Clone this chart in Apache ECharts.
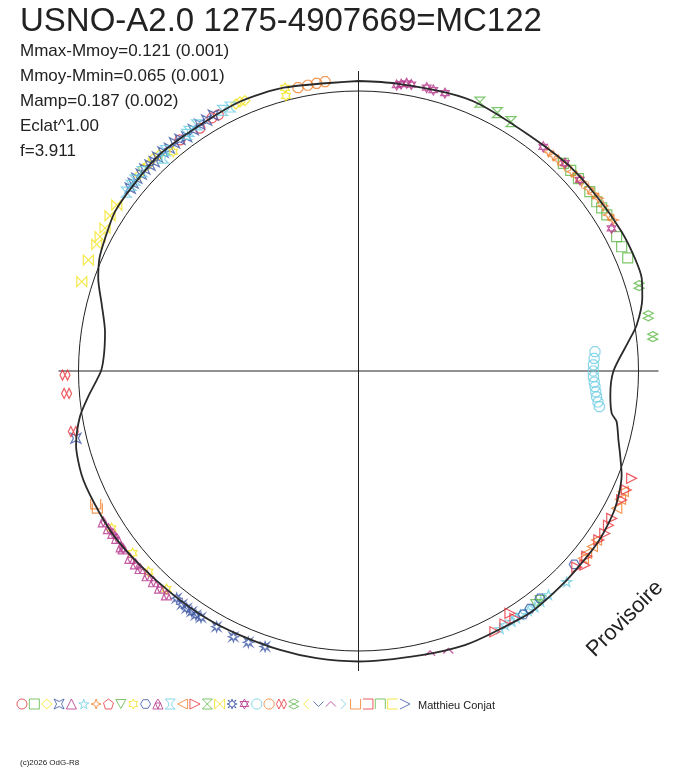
<!DOCTYPE html>
<html><head><meta charset="utf-8">
<script src="https://cdn.jsdelivr.net/npm/echarts@6/dist/echarts.min.js"></script>
<style>html,body{margin:0;padding:0;background:#fff}#c{width:688px;height:768px}</style>
</head><body><div id="c"></div>
<script>
// ---------- texts ----------
const titleText = 'USNO-A2.0 1275-4907669=MC122';
const statLines = ['Mmax-Mmoy=0.121 (0.001)', 'Mmoy-Mmin=0.065 (0.001)', 'Mamp=0.187 (0.002)', 'Eclat^1.00', 'f=3.911'];
const authorText = 'Matthieu Conjat';
const copyrightText = '(c)2026 OdG-R8';
const watermarkText = 'Provisoire';

// ---------- fitted light curve: phase (0..1, clockwise from top) and magnitude offset from mean (positive = fainter) ----------
const curvePhase = [0, .02, .0497, .0678, .0992, .1264, .1506, .1725, .1883, .1997, .21, .2239, .2328, .25, .2653, .2764, .2808, .2914, .2994, .31, .3283, .3483, .3742, .4008, .4233, .4411, .4653, .5, .5231, .5436, .5672, .5875, .61, .6344, .6561, .6772, .6928, .7092, .7242, .735, .75, .7611, .7744, .79, .8044, .8153, .8267, .8422, .86, .8811, .9089, .9342, .9589, 1];
const curveDm    = [-.040, -.040, -.048, -.052, -.044, -.056, -.062, -.071, -.074, -.072, -.052, -.008, .034, .100, .108, .093, .068, .044, .021, -.012, -.044, -.057, -.060, -.066, -.057, -.056, -.044, -.042, -.041, -.039, -.038, -.041, -.042, -.049, -.060, -.062, -.063, -.048, -.009, .034, .090, .100, .094, .060, .015, -.010, -.024, -.044, -.048, -.056, -.050, -.057, -.052, -.040];

// ---------- observer symbols (legend order) ----------
const symbolColors = ['#e8333c','#5cb846','#f2e21a','#3b55a4','#b5338a','#6dcde3','#f0802e',
  '#e8333c','#5cb846','#f2e21a','#3b55a4','#b5338a','#6dcde3','#f0802e',
  '#e8333c','#5cb846','#f2e21a','#3b55a4','#b5338a','#6dcde3','#f0802e',
  '#e8333c','#5cb846','#f2e21a','#3b55a4','#b5338a','#6dcde3','#f0802e',
  '#e8333c','#5cb846','#f2e21a','#3b55a4'];
const symbolShapes = [
  'circle', 'rect', 'diamond',
  'path://M0 0L5 2.5L10 0L7.5 5L10 10L5 7.5L0 10L2.5 5Z',
  'triangle',
  'path://M5 0L6.2 3.6L10 3.6L6.9 5.9L8.1 9.5L5 7.3L1.9 9.5L3.1 5.9L0 3.6L3.8 3.6Z',
  'path://M5 0L6.3 3.7L10 5L6.3 6.3L5 10L3.7 6.3L0 5L3.7 3.7Z',
  'path://M5 0L10 3.8L8.1 10L1.9 10L0 3.8Z',
  'path://M0 0L10 0L5 9Z',
  'path://M5 0L6.4 2.5L9.3 2.5L7.9 5L9.3 7.5L6.4 7.5L5 10L3.6 7.5L0.7 7.5L2.1 5L0.7 2.5L3.6 2.5Z',
  'path://M2.5 0.7L7.5 0.7L10 5L7.5 9.3L2.5 9.3L0 5Z',
  'path://M0 10L2.5 4L5 10ZM5 10L7.5 4L10 10ZM2.5 4L5 0L7.5 4Z',
  'path://M0 0L10 0L6.5 4L6.5 7L10 10L0 10L3.5 7L3.5 4Z',
  'path://M0 5L10 0L10 10Z',
  'path://M0 0L10 5L0 10Z',
  'path://M0 0L10 0L0 10L10 10Z',
  'path://M0 0L0 10L10 0L10 10Z',
  'path://M5 0L6 3L9 1L7 4L10 5L7 6L9 9L6 7L5 10L4 7L1 9L3 6L0 5L3 4L1 1L4 3Z',
  'path://M5 0L9.3 7.5L0.7 7.5ZM5 10L0.7 2.5L9.3 2.5Z',
  'path://M3 0L7 0L10 3L10 7L7 10L3 10L0 7L0 3Z',
  'path://M3 0L7 0L10 3L10 7L7 10L3 10L0 7L0 3Z',
  'path://M0 5L2.5 0L5 5L2.5 10ZM5 5L7.5 0L10 5L7.5 10Z',
  'path://M5 0L10 2.5L5 5L0 2.5ZM5 5L10 7.5L5 10L0 7.5Z',
  'path://M5 0L0 5L5 10',
  'path://M0 0L5 5L10 0',
  'path://M0 5L5 0L10 5',
  'path://M0 10L5 5L0 0',
  'path://M0 0L0 10L10 10L10 0',
  'path://M0 0L10 0L10 10L0 10',
  'path://M0 10L0 0L10 0L10 10',
  'path://M10 0L0 0L0 10L10 10',
  'path://M0 0L10 5L0 10'
];

// ---------- observations: [phase, magnitude offset] ----------
const obsRedCircle     = [[.9203,-.048],[.9079,-.040],[.8953,-.048],[.9165,-.050]];
const obsGreenSquare   = [[.1239,-.047],[.1356,-.049],[.145,-.051],[.1517,-.049],[.1607,-.053],[.1736,-.044],[.1798,-.044],[.1867,-.048],[.1295,-.048],[.156,-.051]];
const obsYellowDiamond = [[.934,-.056],[.9367,-.053],[.9315,-.055],[.8778,-.062],[.8703,-.062],[.8735,-.058],[.866,-.057],[.8815,-.056]];
const obsBlueStar4     = [[.9179,-.057],[.9134,-.053],[.909,-.054],[.9045,-.050],[.8993,-.042],[.8955,-.050],[.892,-.052],[.888,-.049],[.884,-.054],[.88,-.054],[.877,-.050],[.874,-.052],[.8705,-.056],[.8672,-.053],[.8639,-.055],[.8606,-.053],[.8575,-.050],[.7128,-.042]];
const obsCyanStar5     = [[.376,-.065],[.388,-.054],[.3978,-.058],[.4167,-.053],[.4067,-.05],[.402,-.055],[.3935,-.055],[.4125,-.055],[.420,-.056],[.4095,-.052]];
const obsOrangeStar4   = [[.1136,-.040],[.1206,-.042],[.1303,-.047],[.1431,-.054],[.1506,-.062],[.1611,-.058],[.1649,-.065],[.125,-.045],[.138,-.05],[.117,-.041],[.134,-.049],[.147,-.056],[.1555,-.060]];
const obsGreenTriDown  = [[.3933,-.049],[.3965,-.052]];
const obsYellowStar6   = [[.9596,-.050],[.959,-.018],[.8883,-.028],[.6597,-.051],[.642,-.041],[.6286,-.042],[.6149,-.042]];
const obsBlueHexagon   = [[.3663,-.039],[.3928,-.044],[.4053,-.056],[.4005,-.052]];
const obsMagentaTris   = [[.665,-.066],[.6605,-.062],[.6536,-.056],[.6485,-.061],[.6407,-.062],[.6365,-.059],[.633,-.058],[.6275,-.057],[.6228,-.056],[.618,-.058],[.6128,-.060],[.647,-.06],[.657,-.058]];
const obsCyanGlass     = [[.928,-.054],[.9235,-.056],[.9074,-.058],[.902,-.054],[.882,-.035],[.8855,-.052],[.8625,-.056],[.859,-.054],[.9,-.05],[.8685,-.057],[.8545,-.052]];
const obsOrangeTriLeft = [[.318,-.044],[.3278,-.050],[.3483,-.048],[.3573,-.048],[.3225,-.047],[.3525,-.050],[.3605,-.051]];
const obsRedTriRight   = [[.3096,-.054],[.3225,-.052],[.3339,-.052],[.3428,-.060],[.3628,-.073],[.4103,-.051],[.4233,-.057],[.4111,-.023],[.338,-.055],[.3475,-.055],[.3585,-.056],[.3665,-.054],[.4165,-.049],[.3165,-.052]];
const obsGreenHourglass= [[.0675,-.060],[.0785,-.053],[.0874,-.049]];
const obsYellowBowtie  = [[.8458,-.053],[.8389,-.052],[.8317,-.044],[.8263,-.045],[.8217,-.043],[.812,-.048],[.7997,-.043]];
const obsBlueStar8     = [[.6074,-.044],[.5997,-.052],[.5964,-.051],[.5935,-.053],[.5905,-.050],[.5806,-.050],[.570,-.055],[.5614,-.051],[.552,-.044],[.603,-.05]];
const obsMagentaStar6  = [[.0211,-.034],[.0235,-.040],[.0264,-.047],[.029,-.045],[.0376,-.046],[.0414,-.043],[.048,-.044],[.1097,-.042],[.1245,-.052],[.1366,-.050],[.1683,-.042]];
const obsCyanOctagon   = [[.237,.171],[.2458,.180],[.2539,.180],[.2605,.172],[.2672,.162],[.2734,.146],[.2415,.176],[.25,.181],[.2575,.176],[.264,.167],[.2705,.154]];
const obsOrangeOctagon = [[.9665,-.039],[.977,-.043],[.9817,-.045],[.972,-.041]];
const obsRedDoubleDiam = [[.7478,-.054],[.7378,-.051],[.7167,-.046]];
const obsGreenDoubleDiam=[[.2030,-.053],[.220,-.060],[.2315,-.065]];
const obsMagentaChevron= [[.4605,-.045],[.4506,-.056]];
const obsOrangeCup     = [[.673,-.060],[.6755,-.058]];

// observer group -> legend symbol number (1-based)
const groups = [
  [1, obsRedCircle], [2, obsGreenSquare], [3, obsYellowDiamond], [4, obsBlueStar4],
  [6, obsCyanStar5], [7, obsOrangeStar4], [9, obsGreenTriDown], [10, obsYellowStar6],
  [11, obsBlueHexagon], [12, obsMagentaTris], [13, obsCyanGlass], [14, obsOrangeTriLeft],
  [15, obsRedTriRight], [16, obsGreenHourglass], [17, obsYellowBowtie], [18, obsBlueStar8],
  [19, obsMagentaStar6], [20, obsCyanOctagon], [21, obsOrangeOctagon], [22, obsRedDoubleDiam],
  [23, obsGreenDoubleDiam], [26, obsMagentaChevron], [28, obsOrangeCup]
];

// ---------- chart ----------
const chart = echarts.init(document.getElementById('c'), null, {renderer: 'canvas'});
const FONT = '"Liberation Sans", Arial, sans-serif';
const INK = '#222';
const NONE = 'rgba(0,0,0,0)';

const series = [];
groups.forEach(([n, pts]) => {
  series.push({
    type: 'scatter', coordinateSystem: 'polar', silent: true, z: 2,
    symbol: symbolShapes[n - 1], symbolSize: 10, symbolKeepAspect: true,
    itemStyle: {color: NONE, borderColor: symbolColors[n - 1], borderWidth: 1.2},
    data: pts.map(p => [-p[1], p[0]])
  });
});
series.push({
  type: 'line', coordinateSystem: 'polar', silent: true, z: 3,
  showSymbol: false, smooth: 0.25, clip: false,
  lineStyle: {color: '#2a2a2a', width: 1.8},
  data: curvePhase.map((ph, i) => [-curveDm[i], ph])
});
// legend row (observer symbols) on a small auxiliary grid
series.push({
  type: 'scatter', xAxisIndex: 0, yAxisIndex: 0, silent: true,
  symbolSize: 10, symbolKeepAspect: true,
  data: symbolShapes.map((s, i) => ({
    value: [i + 1, 0], symbol: s,
    itemStyle: {color: NONE, borderColor: symbolColors[i], borderWidth: 1}
  }))
});

const graphics = [
  {type: 'text', x: 20, y: 22, style: {text: titleText, font: '33px ' + FONT, fill: INK, verticalAlign: 'middle'}},
  {type: 'text', x: 418, y: 706, style: {text: authorText, font: '11px ' + FONT, fill: INK, verticalAlign: 'middle'}},
  {type: 'text', x: 20, y: 763, style: {text: copyrightText, font: '8px ' + FONT, fill: INK, verticalAlign: 'middle'}},
  {type: 'text', x: 625, y: 619, rotation: Math.PI / 4,
   style: {text: watermarkText, font: '22px ' + FONT, fill: INK, align: 'center', verticalAlign: 'middle'}}
];
statLines.forEach((t, i) => {
  graphics.push({type: 'text', x: 20, y: 51 + 25 * i, style: {text: t, font: '17px ' + FONT, fill: INK, verticalAlign: 'middle'}});
});

chart.setOption({
  animation: false,
  backgroundColor: '#fff',
  polar: {center: [358.5, 371], radius: 300},
  angleAxis: {
    type: 'value', min: 0, max: 1, interval: 0.25, startAngle: 90, clockwise: true,
    axisLine: {show: false}, axisTick: {show: false}, axisLabel: {show: false},
    splitLine: {show: true, lineStyle: {color: INK, width: 1}}
  },
  radiusAxis: {
    type: 'value', min: -1.12, max: 0.08, interval: 1.12,
    axisLine: {show: false}, axisTick: {show: false}, axisLabel: {show: false},
    // ticks: -1.12 (centre), 0 (mean-magnitude reference circle), 0.08 (outer edge, hidden)
    splitLine: {show: true, lineStyle: {color: [NONE, INK, NONE], width: 1}}
  },
  grid: {left: 9.65, width: 407.7, top: 694, height: 20},
  xAxis: {type: 'value', min: 0, max: 33, show: false},
  yAxis: {type: 'value', min: -1, max: 1, show: false},
  series: series,
  graphic: graphics
});
</script></body></html>
